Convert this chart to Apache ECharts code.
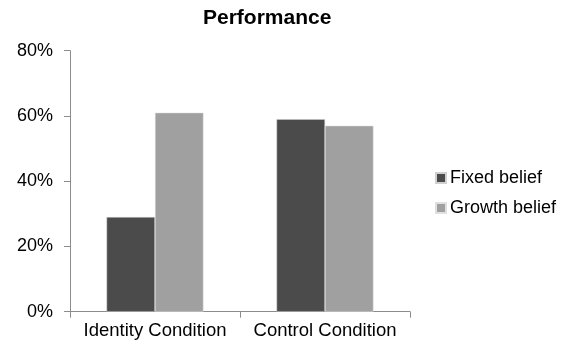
<!DOCTYPE html>
<html>
<head>
<meta charset="utf-8">
<script src="https://cdn.jsdelivr.net/npm/echarts@6/dist/echarts.min.js"></script>
<style>html,body{margin:0;padding:0;background:#fff;}#c{width:569px;height:347px;}</style>
</head>
<body>
<div id="c"></div>
<script>
const categories = ["Identity Condition", "Control Condition"];
const fixedBelief = [29, 59];
const growthBelief = [61, 57];
const seriesNames = ["Fixed belief", "Growth belief"];
const yTicks = [0, 20, 40, 60, 80];

const chart = echarts.init(document.getElementById('c'), null, {renderer: 'canvas'});
const font = "'Liberation Sans', Arial, sans-serif";
chart.setOption({
  animation: false,
  backgroundColor: '#ffffff',
  title: {
    text: 'Performance',
    left: 203, top: 8, padding: 0,
    textStyle: {fontFamily: font, fontSize: 21, fontWeight: 'bold', color: '#000'}
  },
  legend: {
    orient: 'vertical', left: 435, top: 168, padding: 0,
    itemWidth: 10, itemHeight: 10, itemGap: 10,
    icon: 'rect',
    data: seriesNames,
    textStyle: {fontFamily: font, fontSize: 18, color: '#000', lineHeight: 20, padding: [0,0,0,-1]}
  },
  grid: {left: 70, right: 159, top: 50.7, bottom: 35.3, containLabel: false},
  xAxis: {
    type: 'category', data: categories,
    axisLine: {lineStyle: {color: '#8c8c8c', width: 1}},
    axisTick: {show: true, length: 6, lineStyle: {color: '#8c8c8c'}},
    axisLabel: {fontFamily: font, fontSize: 18.5, color: '#000', margin: 10, interval: 0, hideOverlap: false}
  },
  yAxis: {
    type: 'value', min: yTicks[0], max: yTicks[yTicks.length-1], interval: 20,
    axisLine: {show: true, lineStyle: {color: '#8c8c8c', width: 1}},
    axisTick: {show: true, length: 6, lineStyle: {color: '#8c8c8c'}},
    splitLine: {show: false},
    axisLabel: {fontFamily: font, fontSize: 18, color: '#000', margin: 17, formatter: v => v + '%'}
  },
  series: [
    {name: seriesNames[0], type: 'bar', data: fixedBelief, barGap: '0%', barCategoryGap: '43%',
     itemStyle: {color: '#4b4b4b', borderColor: '#d0d0d0', borderWidth: 0.5}},
    {name: seriesNames[1], type: 'bar', data: growthBelief, barGap: '0%', barCategoryGap: '43%',
     itemStyle: {color: '#a0a0a0', borderColor: '#e0e0e0', borderWidth: 0.5}}
  ]
});
</script>
</body>
</html>
